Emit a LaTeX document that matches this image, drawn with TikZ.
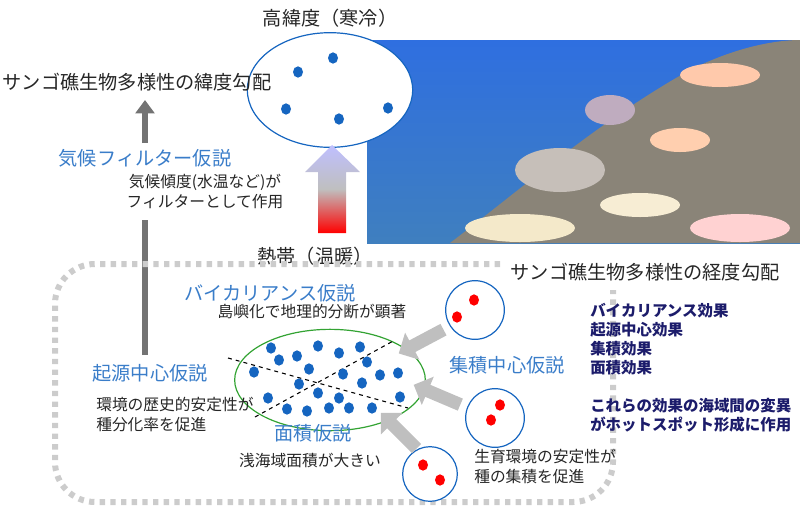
\documentclass[tikz,border=0pt]{standalone}
\usepackage{fontspec}
\setmainfont{Noto Sans CJK JP}
\usetikzlibrary{arrows.meta,shapes.arrows,shapes.geometric}
\definecolor{dotblue}{HTML}{1565C0}
\definecolor{lblue}{HTML}{3A7DC9}
\definecolor{navy}{HTML}{1C1C6B}
\definecolor{seatop}{HTML}{2F6FE0}
\definecolor{seabot}{HTML}{3F7FBF}
\definecolor{reef}{HTML}{8A8478}
\tikzset{
 bd/.style={fill=dotblue,draw=none,ellipse,minimum width=7.5pt,minimum height=8.5pt,inner sep=0pt},
 rd/.style={fill=red,draw=none,ellipse,minimum width=7.5pt,minimum height=8.5pt,inner sep=0pt},
 txt/.style={font=\fontsize{11.8}{15}\selectfont,text=black!85,align=left,inner sep=0pt},
 big/.style={font=\fontsize{14.4}{17}\selectfont,text=black!85,inner sep=0pt},
 hyp/.style={font=\fontsize{14.4}{17}\selectfont,text=lblue,inner sep=0pt},
 eff/.style={font=\bfseries\fontsize{11.6}{14.2}\selectfont,text=navy,align=left,inner sep=0pt,anchor=north west},
 smallc/.style={circle,draw=dotblue,line width=0.9pt,fill=white,minimum size=44pt,inner sep=0pt},
 garrow/.style={single arrow,fill=black!25,draw=none,minimum height=38pt,minimum width=23pt,single arrow head extend=5pt,inner sep=3.5pt}
}
\begin{document}
\begin{tikzpicture}[x=0.75pt,y=-0.75pt]
\useasboundingbox (0,0) rectangle (800,526);
% photo approximation
\shade[top color=seatop,bottom color=seabot] (367,40) rectangle (800,243);
\fill[reef] (450,243) .. controls (520,190) and (600,120) .. (690,70) .. controls (740,45) and (780,40) .. (800,40) -- (800,243) -- cycle;
\fill[brown!20!gray!50] (560,170) ellipse (45 and 22);
\fill[pink!60!orange!60] (720,75) ellipse (40 and 12);
\fill[pink!50!orange!50] (680,140) ellipse (30 and 12);
\fill[yellow!30!brown!25] (520,228) ellipse (55 and 14);
\fill[yellow!30!brown!20] (640,205) ellipse (40 and 12);
\fill[pink!70!white] (740,228) ellipse (50 and 14);
\fill[violet!30!gray!50] (610,110) ellipse (25 and 15);
% top ellipse
\node[ellipse,draw=dotblue,line width=0.9pt,fill=white,minimum width=124pt,minimum height=86pt] (hi) at (330,90) {};
\node[big] (hit) at (330,18) {高緯度（寒冷）};
\foreach \p [count=\i] in {(298,72),(333,58),(286,109),(339,119),(388,108)} \node[bd] (h\i) at \p {};
% gradient arrow
\shade[top color=blue!25!white,bottom color=red,middle color=black!25!white] (318,233) -- (318,172) -- (305,172) -- (332,145) -- (360,172) -- (346,172) -- (346,233) -- cycle;
\node[big] (trop) at (315,256) {熱帯（温暖）};
% latitude text & arrow
\node[big] (lat) at (137,82) {サンゴ礁生物多様性の緯度勾配};
\coordinate (a1) at (145,355); \coordinate (a2) at (145,220);
\coordinate (a3) at (145,143); \coordinate (a4) at (145,100);
\draw[black!55,line width=4pt] (a1) -- (a2);
\draw[black!55,line width=4pt,-{Triangle[length=10pt,width=14pt]}] (a3) -- (a4);
\node[hyp] (cf) at (145,158) {気候フィルター仮説};
\node[txt,align=center] (cft) at (205,192) {気候傾度(水温など)が\\フィルターとして作用};
% dotted frame
\draw[black!20,line width=4.5pt,dash pattern=on 4pt off 4pt,rounded corners=30pt] (500,264) -- (55,264) -- (55,502) -- (613,502) -- (613,290);
\node[big] (lon) at (645,272) {サンゴ礁生物多様性の経度勾配};
% green ellipse
\node[ellipse,draw=green!55!black!80,line width=0.9pt,minimum width=143pt,minimum height=76pt] (sea) at (330,380) {};
\coordinate (d1) at (228,358); \coordinate (d2) at (408,408);
\coordinate (d3) at (255,417); \coordinate (d4) at (395,340);
\draw[dashed,line width=0.8pt] (d1) -- (d2);
\draw[dashed,line width=0.8pt] (d3) -- (d4);
\foreach \p [count=\i] in {(271,348),(279,360),(297,356),(318,346),(339,353),(360,347),(367,362),(254,372),(309,369),(343,374),(380,375),(398,373),(299,384),(362,383),(318,393),(268,398),(339,398),(400,397),(287,409),(307,411),(329,408),(349,408),(372,408)} \node[bd] (s\i) at \p {};
% small circles
\node[smallc] (c1) at (475,310) {};
\node[smallc] (c2) at (495,418) {};
\node[smallc,minimum size=41pt] (c3) at (430,474) {};
\node[rd] (r1) at (474,300) {}; \node[rd] (r2) at (457,317) {};
\node[rd] (r3) at (500,405) {}; \node[rd] (r4) at (491,420) {};
\node[rd] (r5) at (423,465) {}; \node[rd] (r6) at (440,480) {};
% gray arrows
\node[garrow,rotate=208] (g1) at (424,340) {};
\node[garrow,rotate=157] (g2) at (440,396) {};
\node[garrow,rotate=135] (g3) at (401,433) {};
% labels
\node[hyp] (bv) at (270,293) {バイカリアンス仮説};
\node[txt] (bvt) at (312,312) {島嶼化で地理的分断が顕著};
\node[hyp] (ac) at (507,365) {集積中心仮説};
\node[hyp] (ar) at (313,433) {面積仮説};
\node[txt] (art) at (310,460) {浅海域面積が大きい};
\node[txt,anchor=west] (act) at (474,466) {生育環境の安定性が\\種の集積を促進};
\node[hyp] (or) at (150,373) {起源中心仮説};
\node[txt,anchor=west] (ort) at (96,415) {環境の歴史的安定性が\\種分化率を促進};
\node[eff] (e1) at (590,303) {バイカリアンス効果\\起源中心効果\\集積効果\\面積効果};
\node[eff] (e2) at (590,398) {これらの効果の海域間の変異\\がホットスポット形成に作用};
\end{tikzpicture}
\end{document}
